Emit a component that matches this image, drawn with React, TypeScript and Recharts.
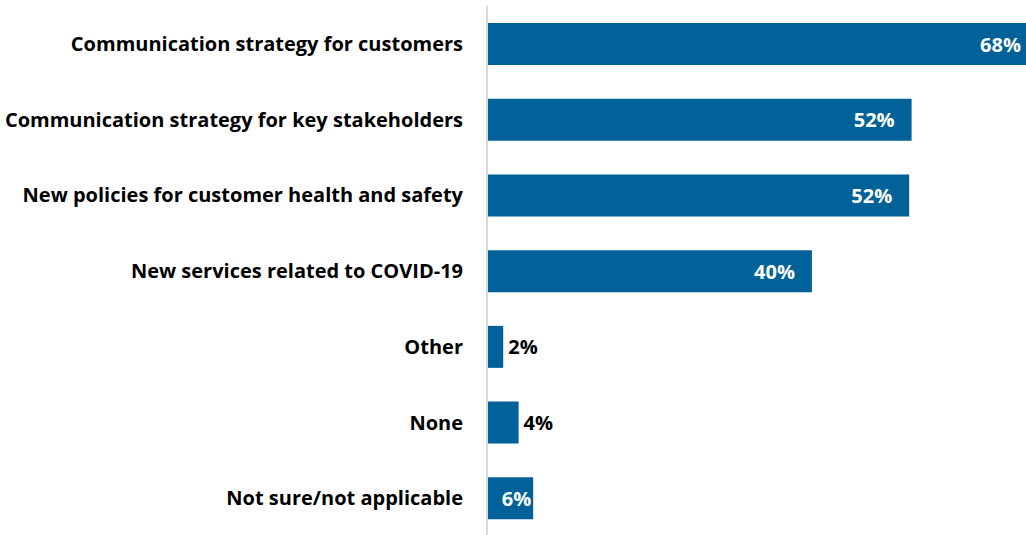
import React from "react";
import { BarChart, Bar, XAxis, YAxis, LabelList } from "recharts";

const categories = [
  "Communication strategy for customers",
  "Communication strategy for key stakeholders",
  "New policies for customer health and safety",
  "New services related to COVID-19",
  "Other",
  "None",
  "Not sure/not applicable",
];
const values = [68, 52.4, 52.1, 40.1, 2.0, 3.9, 5.7];

const data = categories.map((name, i) => ({ name, value: values[i] }));

const FONT = "'Open Sans', 'Noto Sans', sans-serif";
const FONT_SIZE = 20;
const BAR_COLOR = "#006298";

const renderLabel = (props: any) => {
  const { x, y, width, height, value } = props;
  const text = `${Math.round(Number(value))}%`;
  const cy = Number(y) + Number(height) / 2;
  const w = Number(width);
  const end = Number(x) + w;
  if (w > 80) {
    return (
      <text x={end - 17} y={cy} textAnchor="end" dominantBaseline="central" fill="#ffffff" fontFamily={FONT} fontWeight={700} fontSize={FONT_SIZE}>
        {text}
      </text>
    );
  }
  if (w > 40) {
    return (
      <text x={end - 2} y={cy} textAnchor="end" dominantBaseline="central" fill="#ffffff" fontFamily={FONT} fontWeight={700} fontSize={FONT_SIZE}>
        {text}
      </text>
    );
  }
  return (
    <text x={end + 5} y={cy} textAnchor="start" dominantBaseline="central" fill="#000000" fontFamily={FONT} fontWeight={700} fontSize={FONT_SIZE}>
      {text}
    </text>
  );
};

export default function App() {
  return (
    <div style={{ position: "fixed", top: 0, left: 0, width: 1026, height: 535, overflow: "hidden", background: "#fff" }}>
      <BarChart
        width={1038}
        height={536}
        data={data}
        layout="vertical"
        margin={{ top: 6, right: 0, bottom: 0, left: 0 }}
        barSize={42}
      >
        <XAxis type="number" domain={[0, 68]} hide />
        <YAxis
          type="category"
          dataKey="name"
          width={487}
          tickLine={false}
          tickSize={0}
          tickMargin={24}
          axisLine={{ stroke: "#d9d9d9", strokeWidth: 2 }}
          tick={{ fill: "#000000", fontFamily: FONT, fontWeight: 700, fontSize: FONT_SIZE }}
          interval={0}
        />
        <Bar dataKey="value" fill={BAR_COLOR} isAnimationActive={false}>
          <LabelList dataKey="value" content={renderLabel} />
        </Bar>
      </BarChart>
    </div>
  );
}
